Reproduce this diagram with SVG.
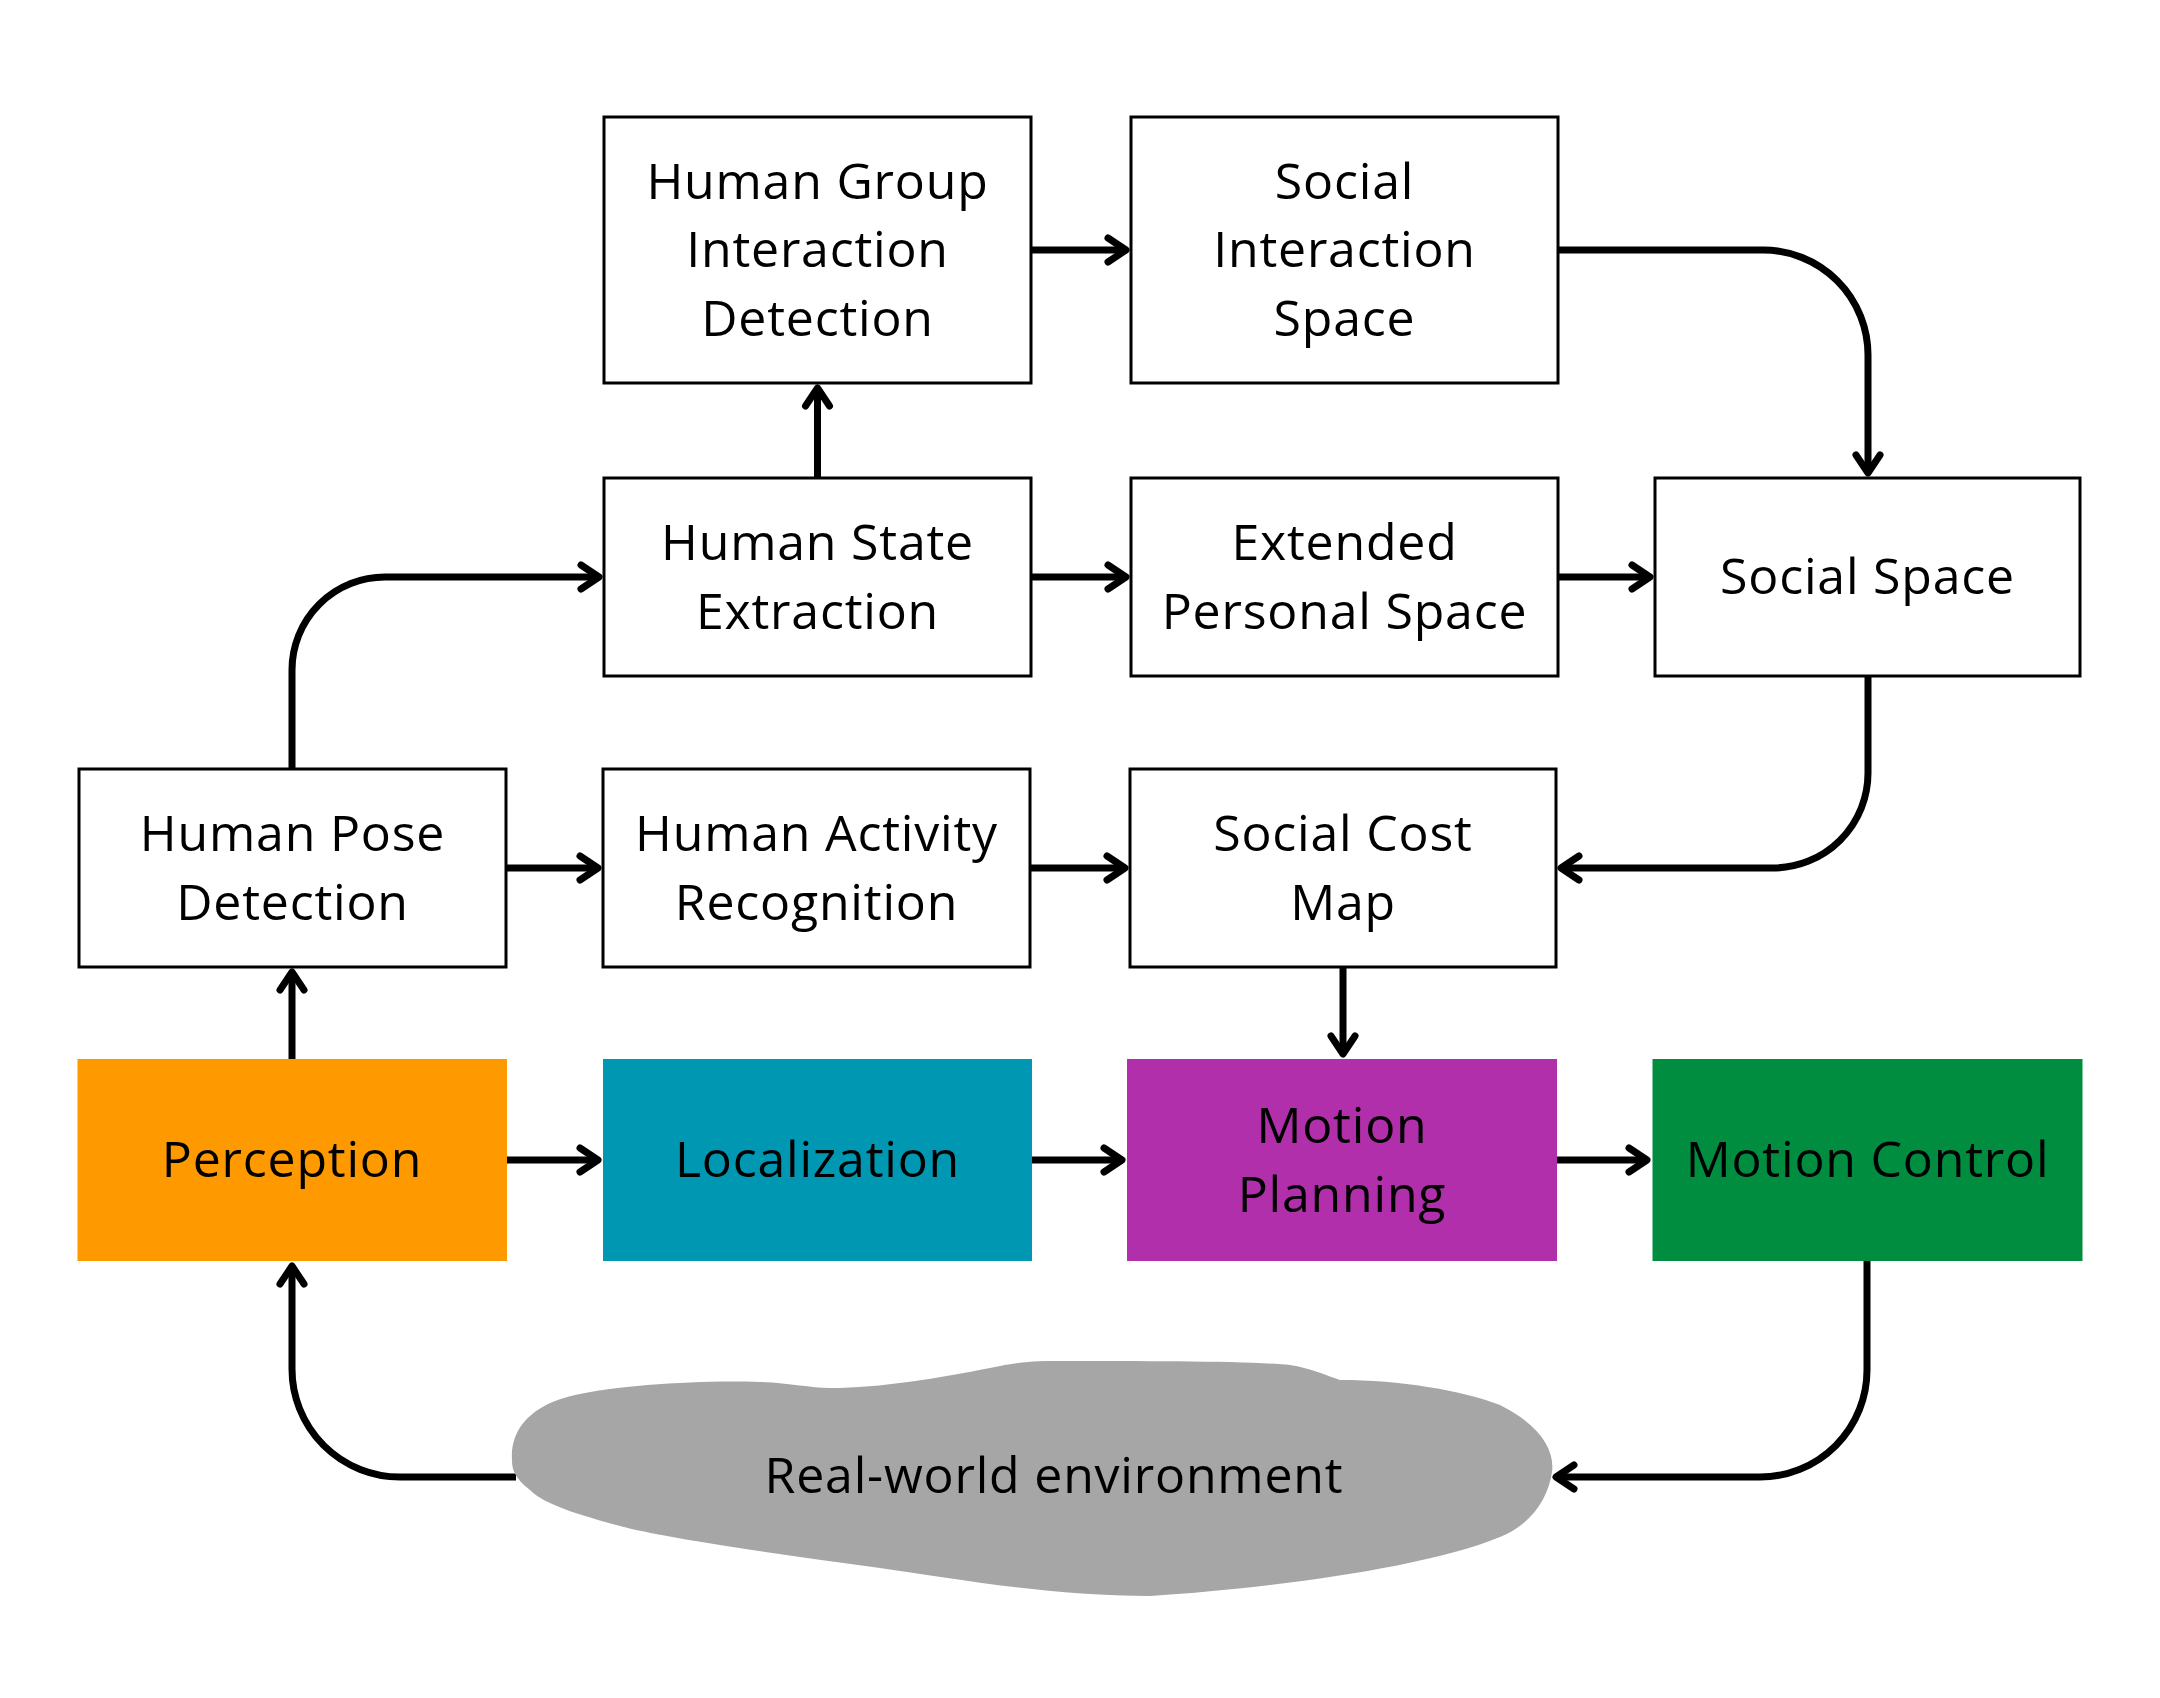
<svg xmlns="http://www.w3.org/2000/svg" width="2160" height="1698" viewBox="0 0 2160 1698">
<style>
.box{fill:#fff;stroke:#000;stroke-width:3}
.t{font-family:"Open Sans","Noto Sans","Liberation Sans",sans-serif;font-size:50px;letter-spacing:0.8px;fill:#000;text-anchor:middle}
.c{fill:none;stroke:#000;stroke-width:7;marker-end:url(#arr)}
</style>
<defs>
<marker id="arr" viewBox="-30 -20 40 40" refX="0" refY="0" markerWidth="40" markerHeight="40" orient="auto" markerUnits="userSpaceOnUse">
<path d="M-18,-12 L0,0 L-18,12" fill="none" stroke="#000" stroke-width="7" stroke-linecap="round" stroke-linejoin="round"/>
</marker>
</defs>
<rect width="2160" height="1698" fill="#fff"/>

<g id="connectors">
<path class="c" d="M1031,250 H1126"/>
<path class="c" d="M1558,250 H1763 A105,105 0 0 1 1868,355 V473"/>
<path class="c" d="M817.5,478 V388"/>
<path class="c" d="M292,768 V670 A93,93 0 0 1 385,577 H599"/>
<path class="c" d="M1031,577 H1126"/>
<path class="c" d="M1558,577 H1650"/>
<path class="c" d="M1868,676 V773 A95,95 0 0 1 1773,868 H1561"/>
<path class="c" d="M506,868 H598"/>
<path class="c" d="M1030,868 H1125"/>
<path class="c" d="M1343,967 V1054"/>
<path class="c" d="M292,1059 V972"/>
<path class="c" d="M507,1160 H598"/>
<path class="c" d="M1032,1160 H1122"/>
<path class="c" d="M1557,1160 H1647"/>
<path class="c" d="M1867,1261 V1370 A107,107 0 0 1 1760,1477 H1556"/>
<path class="c" d="M516,1477 H400 A108,108 0 0 1 292,1369 V1266"/>
</g>

<g id="hgid"><rect class="box" x="604" y="117" width="427" height="266"/>
<text class="t" x="817.5" y="198.5">Human Group</text><text class="t" x="817.5" y="267">Interaction</text><text class="t" x="817.5" y="335.5">Detection</text></g>

<g id="sis"><rect class="box" x="1131" y="117" width="427" height="266"/>
<text class="t" x="1344.5" y="198.5">Social</text><text class="t" x="1344.5" y="267">Interaction</text><text class="t" x="1344.5" y="335.5">Space</text></g>

<g id="hse"><rect class="box" x="604" y="478" width="427" height="198"/>
<text class="t" x="817.5" y="560">Human State</text><text class="t" x="817.5" y="628.5">Extraction</text></g>

<g id="eps"><rect class="box" x="1131" y="478" width="427" height="198"/>
<text class="t" x="1344.5" y="560">Extended</text><text class="t" x="1344.5" y="628.5">Personal Space</text></g>

<g id="ss"><rect class="box" x="1655" y="478" width="425" height="198"/>
<text class="t" x="1867.5" y="594">Social Space</text></g>

<g id="hpd"><rect class="box" x="79" y="769" width="427" height="198"/>
<text class="t" x="292.5" y="851">Human Pose</text><text class="t" x="292.5" y="919.5">Detection</text></g>

<g id="har"><rect class="box" x="603" y="769" width="427" height="198"/>
<text class="t" x="816.5" y="851">Human Activity</text><text class="t" x="816.5" y="919.5">Recognition</text></g>

<g id="scm"><rect class="box" x="1130" y="769" width="426" height="198"/>
<text class="t" x="1343" y="851">Social Cost</text><text class="t" x="1343" y="919.5">Map</text></g>

<g id="perception"><rect x="77.5" y="1059" width="429.5" height="202" fill="#FE9900"/>
<text class="t" x="292" y="1177">Perception</text></g>

<g id="localization"><rect x="603" y="1059" width="429" height="202" fill="#0097B2"/>
<text class="t" x="817.5" y="1177">Localization</text></g>

<g id="motion-planning"><rect x="1127" y="1059" width="430" height="202" fill="#B12FAA"/>
<text class="t" x="1342" y="1143">Motion</text><text class="t" x="1342" y="1211.5">Planning</text></g>

<g id="motion-control"><rect x="1652.5" y="1059" width="430" height="202" fill="#018D3F"/>
<text class="t" x="1867.5" y="1177">Motion Control</text></g>

<g id="environment">
<path fill="#A6A6A6" d="M512,1460 C510,1430 530,1405 575,1395 C620,1385 700,1380 760,1382 C790,1383 810,1388 830,1388 C880,1388 940,1378 990,1368 C1020,1361 1040,1361 1060,1361 C1150,1361 1250,1361 1290,1365 C1310,1368 1325,1375 1340,1380 C1400,1380 1460,1390 1500,1405 C1540,1425 1555,1450 1552,1472 C1548,1500 1530,1525 1500,1537 C1420,1570 1250,1590 1150,1596 C1050,1596 950,1578 880,1568 C780,1555 660,1537 620,1526 C580,1515 545,1505 530,1490 C515,1478 512,1470 512,1460 Z"/>
<text class="t" x="1054" y="1492.5">Real-world environment</text>
</g>
</svg>
